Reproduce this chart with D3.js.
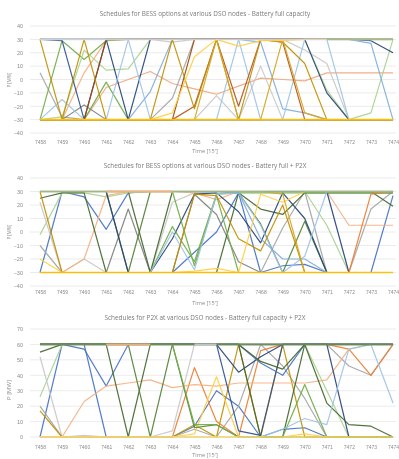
<!DOCTYPE html>
<html><head><meta charset="utf-8">
<script src="https://cdn.jsdelivr.net/npm/d3@7"></script>
<style>
body{margin:0;background:#fff;}
svg{display:block;font-family:"Open Sans","Noto Sans",sans-serif;filter:blur(0.35px);}
</style></head><body>
<svg id="c" width="399" height="459"></svg>
<script>
const categories = ["7458","7459","7460","7461","7462","7463","7464","7465","7466","7467","7468","7469","7470","7471","7472","7473","7474"];
const bessTicks = [-40,-30,-20,-10,0,10,20,30,40];
const p2xTicks = [0,10,20,30,40,50,60,70];
const titles = ["Schedules for BESS options at various DSO nodes - Battery full capacity",
                "Schedules for BESS options at various DSO nodes - Battery full + P2X",
                "Schedules for P2X at various DSO nodes - Battery full capacity + P2X"];

// ---- Chart 1 series (MW) ----
const c1_lorange = [-30,-30,5,29,30,30,30,30,30,30,30,30,30,30,30,30,30];
const c1_salmon  = [-30,-30,-30,-6,0,6,-3,-7,-11,-5,1,0,-1,5,5,5,5];
const c1_gray    = [5,-28,-30,-30,-30,-30,-14,30,30,30,30,30,30,30,30,30,30];
const c1_dgray   = [-30,-30,-19,-30,-30,-30,-30,-30,-30,-30,-30,-30,-30,-30,-30,-30,-30];
const c1_lgray   = [30,30,30,30,30,30,28,30,30,30,30,30,30,30,30,30,30];
const c1_gray2   = [-30,-30,-30,-30,-30,-30,-30,-30,-12,-30,10,-30,-30,-30,-30,-30,-30];
const c1_gray3   = [30,30,30,30,30,30,30,30,30,30,30,30,22,12,-30,-30,-30];
const c1_green   = [-30,29,15,29,30,30,30,30,30,30,30,30,30,30,30,30,30];
const c1_lgreen  = [-30,-28,22,7,8,30,30,30,30,30,30,30,30,-8,-30,-25,30];
const c1_green2  = [-30,-30,-30,-2,-30,-30,-30,-30,-30,-30,-30,-30,-30,-30,-30,-30,-30];
const c1_navy1   = [30,29,-30,-30,-30,-30,-30,-30,-30,-30,-30,-30,-30,-30,-30,-30,-30];
const c1_navy2   = [-30,-30,-30,30,-30,30,30,30,30,30,30,30,30,-10,-30,-30,-30];
const c1_navy3   = [30,30,30,30,30,30,30,30,30,30,30,30,30,30,30,29,20];
const c1_lblue1  = [-30,-15,-30,-30,30,-30,-30,-30,-30,-30,-30,-30,-30,-30,-30,-30,-30];
const c1_lblue2  = [-30,-30,-30,-30,-30,-9,30,30,30,30,28,-22,-25,-30,-30,-30,-30];
const c1_lblue3  = [-30,-30,-30,-30,-30,-30,-30,-30,-30,30,-30,-30,30,30,-30,-30,-30];
const c1_lblue4  = [30,30,30,30,30,30,30,30,30,30,30,30,30,30,30,27,-30];
const c1_brown1  = [-30,-30,-30,30,30,30,30,30,30,30,30,30,30,30,30,30,30];
const c1_brown2  = [-30,-30,-30,-30,-30,-30,-30,-20,30,-20,30,28,-30,-30,-30,-30,-30];
const c1_brown3  = [-30,-30,-30,-30,-30,-30,-30,30,30,30,30,30,30,30,30,30,30];
const c1_gold1   = [30,-30,30,-30,-30,-30,30,-22,30,-30,30,28,12,-30,-30,-30,-30];
const c1_gold2   = [-30,-30,-30,-30,-30,-30,-30,-30,30,-30,-30,30,-25,-30,-30,-30,-30];
const c1_yellow  = [-30,-30,-30,-30,-30,-30,-25,17,30,25,29,29,30,30,30,30,30];
const c1_top     = [30,30,30,30,30,30,30,30,30,30,30,30,30,30,30,30,30];
const c1_dgreen  = [null,null,null,null,null,null,null,null,null,null,null,null,null,30,30,30,30];
const c1_bottom  = [-30,-30,-30,-30,-30,-30,-30,-30,-30,-30,-30,-30,-30,-30,-30,-30,-30];

// ---- Chart 2 series (MW) ----
const c2_blue1   = [-30,30,26,2,29,30,30,30,30,30,30,30,30,30,30,30,30];
const c2_blue2   = [-30,-30,-30,-30,-30,-30,-30,-15,0,29,-30,-25,-24,-30,-30,-30,27];
const c2_lgreen  = [-2,29,29,26,29,30,30,30,30,30,30,30,30,5,-30,-30,-30];
const c2_lgray   = [22,-30,-20,-30,-30,-30,22,29,30,30,30,30,30,30,30,30,30];
const c2_gray2   = [-10,-30,-30,-30,-30,-30,-30,-30,-30,-30,-30,3,30,-30,-30,17,30];
const c2_dgray   = [-30,-30,-30,-30,17,-30,-30,28,13,-22,-30,-30,-30,-30,-30,-30,-30];
const c2_lorange = [-30,-30,-20,27,30,30,30,29,24,30,30,30,30,30,5,5,5];
const c2_dgreen1 = [25,29,29,-30,-30,-30,-30,-30,-30,29,17,13,29,29,29,29,29];
const c2_dgreen2 = [30,30,30,30,-30,30,30,30,30,29,6,-30,8,-30,-30,-30,-30];
const c2_dgreen3 = [30,30,30,30,30,-30,30,30,30,30,30,30,30,30,30,30,30];
const c2_dgreen4 = [30,30,30,30,30,30,30,30,30,30,30,30,30,30,30,30,19];
const c2_navy1   = [30,30,30,30,-30,-30,-5,28,29,15,-8,29,10,-30,-30,-30,-30];
const c2_navy2   = [30,30,30,30,30,30,30,30,30,30,30,30,30,30,-30,-30,-30];
const c2_green1  = [-30,-30,-30,-30,-30,-30,4,-22,28,29,29,29,29,29,29,29,29];
const c2_green2  = [30,30,30,30,30,30,30,-25,27,-30,-30,-30,-30,-30,-30,-30,-30];
const c2_lblue1  = [-30,-30,-30,-30,-30,-30,0,-28,28,29,5,-30,-18,30,30,30,30];
const c2_lblue2  = [30,30,30,30,30,30,30,30,30,29,-5,-20,-20,-30,-30,-30,-30];
const c2_gold1   = [30,-30,-30,-30,-30,-30,-30,28,27,-5,-14,20,-30,-30,-30,-30,-30];
const c2_gold2   = [-20,-30,-30,-30,-30,-30,-30,-30,-30,-30,28,22,30,30,30,30,30];
const c2_gold3   = [30,30,30,30,30,30,30,30,30,30,30,28,-30,-30,-30,-30,-30];
const c2_ylow    = [-30,-30,-30,-30,-30,-30,-30,-29,-27,-30,-30,-30,-30,-30,-30,-30,-30];
const c2_orange  = [-30,-30,-30,-30,-30,-30,-30,-30,-30,-30,-30,-30,-30,-30,-30,28,30];
const c2_top     = [30,30,30,30,30,30,30,30,30,30,30,30,30,30,30,30,30];
const c2_otop    = [null,null,null,30,30,30,30,null,null,null,null,null,null,null,null,null,null];
const c2_bottom  = [-30,-30,-30,-30,-30,-30,-30,-30,-30,-30,-30,-30,-30,-30,-30,-30,-30];

// ---- Chart 3 series (MW) ----
const c3_blue1   = [0,60,57,33,60,60,60,60,60,60,60,60,60,60,60,60,60];
const c3_blue2   = [60,60,60,0,0,0,0,7,30,20,0,5,6,0,0,0,0];
const c3_lgreen  = [26,60,60,60,60,60,60,60,60,60,60,60,60,30,0,0,0];
const c3_lgray   = [52,0,1,0,0,0,4,60,60,60,60,60,60,60,60,60,60];
const c3_gray2   = [20,0,0,0,0,0,0,5,0,20,60,46,25,0,0,0,0];
const c3_gray3   = [60,60,60,60,60,60,60,60,60,60,60,60,60,60,46,40,60];
const c3_gold    = [17,0,0,0,0,0,0,8,0,60,0,60,0,0,0,0,0];
const c3_orange  = [0,0,0,0,0,0,0,45,10,0,56,60,60,60,57,40,60];
const c3_lorange = [0,0,23,33,35,37,32,34,33,35,35,35,35,37,57,60,60];
const c3_yellow  = [0,0,0,0,0,0,0,2,39,0,0,0,2,0,0,0,0];
const c3_navy1   = [60,60,60,60,60,60,60,60,60,42,52,60,60,60,0,0,0];
const c3_navy2   = [60,60,60,60,60,60,60,60,60,4,1,60,60,60,60,60,60];
const c3_blue3   = [60,60,60,60,60,60,60,60,60,60,48,40,60,60,60,60,60];
const c3_dgreen1 = [55,60,60,60,0,60,60,60,60,60,49,44,60,22,8,7,0];
const c3_dgreen2 = [60,60,60,60,60,0,60,6,8,0,0,0,0,0,0,0,0];
const c3_dgreen3 = [60,60,60,60,60,60,60,60,60,60,0,0,60,60,60,60,60];
const c3_green   = [60,60,60,60,60,60,60,8,8,0,0,0,34,0,0,0,0];
const c3_lblue   = [0,0,0,0,0,0,0,0,0,0,0,5,12,8,57,60,22];
const c3_top     = [60,60,60,60,60,60,60,60,60,60,60,60,60,60,60,60,60];
const c3_otop    = [null,null,null,60,60,60,null,null,null,null,null,null,null,null,null,null,null];
const c3_gtop    = [null,null,null,null,null,null,null,60,60,null,null,null,null,null,null,null,null];
const c3_bottom  = [0,0,0,0,0,0,0,0,0,0,0,0,0,0,0,0,0];

// colours (styles kept separate from data)
const C = {blue:"#4472C4",orange:"#ED7D31",lorange:"#F4B183",salmon:"#F2A77E",gray:"#A5A5A5",dgray:"#7F7F7F",lgray:"#C8C8C8",
  green:"#70AD47",lgreen:"#A9D18E",navy:"#264478",navy2:"#2F4F8F",lblue:"#9DC3E6",lblue2:"#7EAEDE",brown:"#9E480E",brown2:"#B5541A",
  gold:"#BF9000",gold2:"#D9A520",yellow:"#FFCF40",yflat:"#FFC000",dgreen:"#43682B",dgreen2:"#548235",topgray:"#D6D6D6",topgreen:"#9DB88C",top3:"#6E8A5C"};

const chart1 = [
 [c1_lorange,C.lorange],[c1_salmon,C.salmon],[c1_gray,C.gray],[c1_dgray,C.dgray],[c1_lgray,C.lgray],
 [c1_gray2,C.lgray],[c1_gray3,C.lgray],[c1_green,C.green],[c1_lgreen,C.lgreen],[c1_green2,C.green],[c1_navy1,C.navy2],
 [c1_navy2,C.navy],[c1_navy3,C.navy],[c1_lblue1,C.lblue],[c1_lblue2,C.lblue2],[c1_lblue3,C.lblue],[c1_lblue4,C.lblue2],
 [c1_brown1,C.brown],[c1_brown2,C.brown2],[c1_brown3,C.brown],[c1_gold1,C.gold],[c1_gold2,C.gold2],[c1_yellow,C.yellow],
 [c1_top,C.topgray,1.8],[c1_dgreen,C.topgreen,1.8],[c1_bottom,C.yflat,1.6]
];
const chart2 = [
 [c2_blue1,C.blue],[c2_blue2,C.blue],[c2_lgreen,C.lgreen],[c2_lgray,C.lgray],[c2_gray2,C.gray],[c2_dgray,C.dgray],
 [c2_lorange,C.lorange],[c2_dgreen1,C.dgreen],[c2_dgreen2,C.dgreen2],[c2_dgreen3,C.dgreen],[c2_dgreen4,C.dgreen],
 [c2_navy1,C.navy],[c2_navy2,C.navy],[c2_green1,C.green],[c2_green2,C.green],[c2_lblue1,C.lblue],[c2_lblue2,C.lblue2],
 [c2_gold1,C.gold],[c2_gold2,C.yellow],[c2_gold3,C.gold2],[c2_ylow,C.yellow],[c2_orange,C.orange],
 [c2_top,C.topgreen,1.9],[c2_otop,C.lorange,1.9],[c2_bottom,C.yflat,1.6]
];
const chart3 = [
 [c3_blue1,C.blue],[c3_blue2,C.blue],[c3_lgreen,C.lgreen],[c3_lgray,C.lgray],[c3_gray2,C.gray],[c3_gray3,C.gray],
 [c3_gold,C.gold],[c3_orange,C.orange],[c3_lorange,C.lorange],[c3_yellow,C.yellow],[c3_navy1,C.navy],[c3_navy2,C.navy2],
 [c3_blue3,C.blue],[c3_dgreen1,C.dgreen],[c3_dgreen2,C.dgreen2],[c3_dgreen3,C.dgreen],[c3_green,C.green],[c3_lblue,C.lblue],
 [c3_top,C.top3,1.9],[c3_otop,C.lorange,1.9],[c3_gtop,C.lgray,1.9],[c3_bottom,"#FFD966",1.6]
];

const svg = d3.select("#c");
const x = d3.scalePoint().domain(categories).range([40,393]);

function drawChart(cfg){
  const g = svg.append("g");
  const y = d3.scaleLinear().domain(cfg.domain).range([cfg.bottom,cfg.top]);
  g.selectAll("line.grid").data(cfg.ticks).join("line")
    .attr("x1",30).attr("x2",396).attr("y1",d=>y(d)).attr("y2",d=>y(d))
    .attr("stroke","#E3E3E3").attr("stroke-width",0.7);
  const ya = d3.axisLeft(y).tickValues(cfg.ticks).tickSize(0).tickPadding(0);
  const yg = g.append("g").attr("transform","translate(23,0)").call(ya);
  yg.select(".domain").remove();
  yg.selectAll("text").attr("fill","#8C8C8C").style("font-size","5.5px");
  const xa = d3.axisBottom(x).tickSize(0).tickPadding(0);
  const xg = g.append("g").attr("transform",`translate(0,${cfg.xlab})`).call(xa);
  xg.select(".domain").remove();
  xg.selectAll("text").attr("fill","#8C8C8C").style("font-size","5px");
  g.append("text").attr("x",205).attr("y",cfg.titleY).attr("text-anchor","middle")
    .attr("fill","#7A7A7A").style("font-size","6.4px").text(cfg.title);
  g.append("text").attr("x",205).attr("y",cfg.timeY).attr("text-anchor","middle")
    .attr("fill","#8C8C8C").style("font-size","5.6px").text("Time [15']");
  g.append("text").attr("transform",`translate(${cfg.pX},${cfg.pY}) rotate(-90)`).attr("text-anchor","middle")
    .attr("fill","#8C8C8C").style("font-size",cfg.pSize).text("P [MW]");
  const line = d3.line().defined(d=>d!=null).x((d,i)=>x(categories[i])).y(d=>y(d));
  g.selectAll("path.s").data(cfg.series).join("path")
    .attr("d",d=>line(d[0])).attr("fill","none").attr("stroke",d=>d[1])
    .attr("stroke-width",d=>d[2]||1.2).attr("stroke-linejoin","round").attr("opacity",0.92);
}

drawChart({domain:[-40,40],top:26,bottom:133,ticks:bessTicks,xlab:140,titleY:16,timeY:153,pX:11,pY:80,pSize:"4.5px",title:titles[0],series:chart1});
drawChart({domain:[-40,40],top:178,bottom:286,ticks:bessTicks,xlab:290,titleY:168,timeY:305,pX:11,pY:232,pSize:"4.5px",title:titles[1],series:chart2});
drawChart({domain:[0,70],top:329,bottom:437,ticks:p2xTicks,xlab:445,titleY:320,timeY:457,pX:11,pY:390,pSize:"6px",title:titles[2],series:chart3});
</script>
</body></html>
